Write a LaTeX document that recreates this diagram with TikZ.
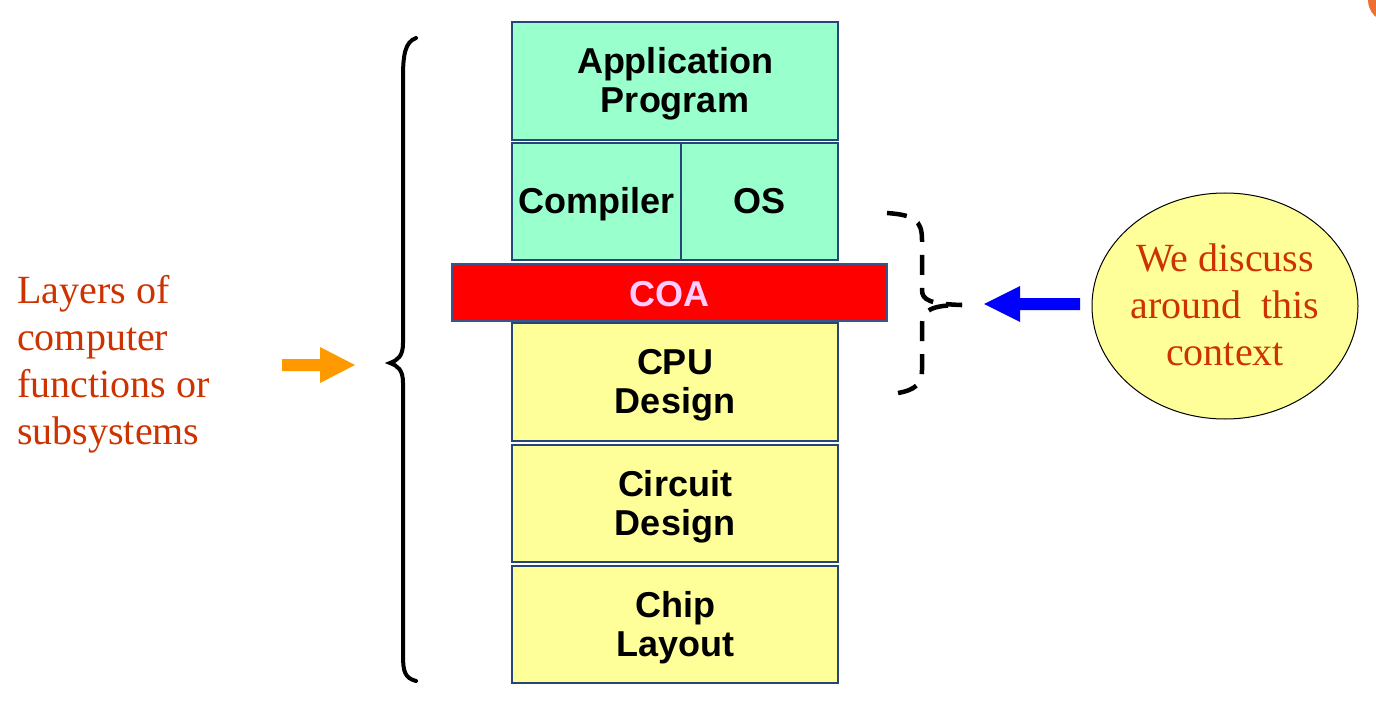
\documentclass[tikz,border=0pt]{standalone}
\usepackage{fontspec}
\setmainfont{Liberation Serif}
\newfontfamily\arialfont{Liberation Sans}
\usetikzlibrary{shapes.geometric}
\definecolor{mint}{RGB}{153,255,204}
\definecolor{lyellow}{RGB}{255,255,153}
\definecolor{boxblue}{RGB}{38,70,122}
\definecolor{txtred}{RGB}{204,51,0}
\definecolor{pinktxt}{RGB}{255,204,255}
\definecolor{orangearrow}{RGB}{255,153,0}
\definecolor{cornerorange}{RGB}{237,112,50}
\begin{document}
\begin{tikzpicture}[x=1pt,y=-1pt,
  layer/.style={draw=boxblue, line width=2.5pt, inner sep=0pt},
  layertext/.style={inner sep=0pt, align=center, yshift=-3pt,
    font=\arialfont\bfseries\fontsize{36}{39}\selectfont, text=black},
  redtext/.style={text=txtred, font=\fontsize{40}{47}\selectfont, inner sep=0pt},
  bracestyle/.style={line width=4pt, line cap=round, black},
  dashbrace/.style={line width=4.5pt, dash pattern=on 20pt off 13pt, black}]
\useasboundingbox (0,0) rectangle (1376,722);
% corner decoration
\begin{scope}
\clip (0,0) rectangle (1376,722);
\fill[cornerorange] (1390,0) circle (22);
\end{scope}
% layers
\node[layer, fill=mint, minimum width=326, minimum height=118] (app) at (675,81) {};
\node[layertext] (appt) at (app.center) {Application\\Program};
\node[layer, fill=mint, minimum width=169, minimum height=117] (comp) at (596.5,201.5) {};
\node[layertext] (compt) at (comp.center) {Compiler};
\node[layer, fill=mint, minimum width=157, minimum height=117] (os) at (759.5,201.5) {};
\node[layertext] (ost) at (os.center) {\vphantom{Cp}OS};
\node[layer, fill=red, draw={rgb,255:red,55;green,85;blue,135}, minimum width=435, minimum height=57] (coa) at (669.5,292.5) {};
\node[layertext, text=pinktxt, yshift=1pt] (coat) at (coa.center) {COA};
\node[layer, fill=lyellow, minimum width=326, minimum height=118] (cpu) at (675,382) {};
\node[layertext] (cput) at (cpu.center) {CPU\\Design};
\node[layer, fill=lyellow, minimum width=326, minimum height=117] (circ) at (675,503.5) {};
\node[layertext] (circt) at (circ.center) {Circuit\\Design};
\node[layer, fill=lyellow, minimum width=326, minimum height=117] (chip) at (675,624.5) {};
\node[layertext] (chipt) at (chip.center) {Chip\\Layout};
% left label
\node[redtext, align=left, anchor=north west] (layers) at (17,275) {Layers of\\computer\\functions or\\subsystems};
% big left brace
\coordinate (bt) at (416,38);
\coordinate (bb) at (416,681);
\coordinate (btip) at (390,363);
\draw[bracestyle] (bt) .. controls (405,42) and (403,55) .. (403,78) -- (403,343)
  .. controls (403,356) and (398,360) .. (btip)
  .. controls (398,366) and (403,370) .. (403,383) -- (403,655)
  .. controls (403,672) and (405,678) .. (bb);
% orange arrow
\fill[orangearrow] (282,359) -- (320,359) -- (320,347) -- (355,365) -- (320,383) -- (320,371) -- (282,371) -- cycle;
% dashed bracket
\coordinate (dt) at (887,213);
\coordinate (dtip) at (962,305);
\coordinate (db) at (898,393);
\draw[dashbrace] (dt) .. controls (914,215) and (922,220) .. (922,240) -- (922,290)
  .. controls (922,300) and (930,304) .. (dtip);
\draw[dashbrace] (db) .. controls (915,390) and (922,384) .. (922,370) -- (922,324)
  .. controls (922,310) and (932,305) .. (dtip);
% ellipse
\node[ellipse, draw=black, line width=1pt, fill=lyellow, minimum width=266, minimum height=226, inner sep=0pt] (ctx) at (1225,306) {};
\node[redtext, align=center] (ctxt) at (1225,305) {We discuss\\around\ \ this\\context};
% blue arrow
\fill[blue] (1080,298) -- (1020,298) -- (1020,286) -- (984,304) -- (1020,322) -- (1020,310) -- (1080,310) -- cycle;
\end{tikzpicture}
\end{document}
